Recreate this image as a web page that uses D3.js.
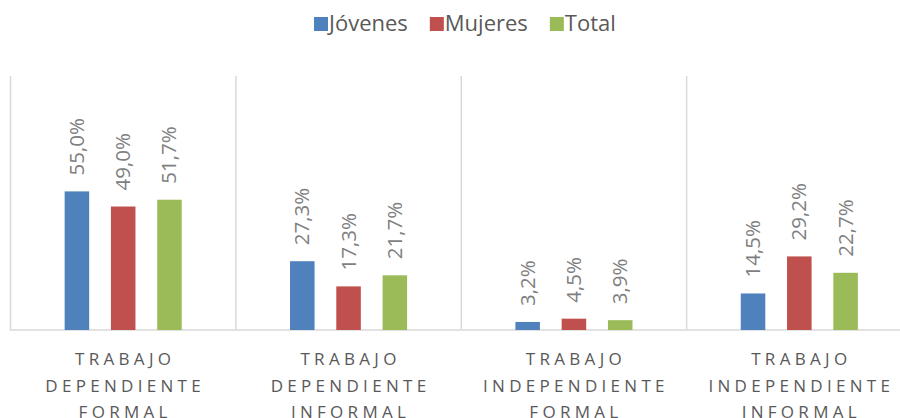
<!DOCTYPE html>
<html>
<head>
<meta charset="utf-8">
<script src="https://cdn.jsdelivr.net/npm/d3@7"></script>
<style>
  html, body { margin: 0; padding: 0; background: #fff; }
  svg { display: block; }
</style>
</head>
<body>
<svg id="chart" width="900" height="418"></svg>
<script>
const categories = [
  "TRABAJO DEPENDIENTE FORMAL",
  "TRABAJO DEPENDIENTE INFORMAL",
  "TRABAJO INDEPENDIENTE FORMAL",
  "TRABAJO INDEPENDIENTE INFORMAL"
];
const seriesNames = ["Jóvenes", "Mujeres", "Total"];
const jovenes = [55.0, 27.3, 3.2, 14.5];
const mujeres = [49.0, 17.3, 4.5, 29.2];
const total   = [51.7, 21.7, 3.9, 22.7];
const seriesValues = [jovenes, mujeres, total];
const colors = ["#4f81bd", "#c0504d", "#9bbb59"];

const svg = d3.select("#chart");
const plotLeft = 10.5, plotRight = 912, plotTop = 76, plotBottom = 330;

const x0 = d3.scaleBand().domain(categories).range([plotLeft, plotRight]).padding(0);
const x1 = d3.scaleBand().domain(seriesNames).range([0, x0.bandwidth()])
  .paddingInner(0.47).paddingOuter(1.17);
const y = d3.scaleLinear().domain([0, 100]).range([plotBottom, 78]);

const fmt = v => d3.format(".1f")(v).replace(".", ",") + "%";

// separators
svg.append("g").selectAll("line").data(categories).join("line")
  .attr("x1", d => x0(d)).attr("x2", d => x0(d))
  .attr("y1", plotTop).attr("y2", plotBottom)
  .attr("stroke", "#d9d9d9").attr("stroke-width", 1.5);
svg.append("line")
  .attr("x1", plotLeft - 0.75).attr("x2", plotRight)
  .attr("y1", plotBottom).attr("y2", plotBottom)
  .attr("stroke", "#d9d9d9").attr("stroke-width", 1.5);

// bars
const data = [];
categories.forEach((c, i) => {
  seriesNames.forEach((s, j) => {
    data.push({ cat: c, series: s, value: seriesValues[j][i], color: colors[j] });
  });
});

const g = svg.append("g");
g.selectAll("rect").data(data).join("rect")
  .attr("x", d => x0(d.cat) + x1(d.series))
  .attr("y", d => y(d.value))
  .attr("width", x1.bandwidth())
  .attr("height", d => plotBottom - y(d.value))
  .attr("fill", d => d.color);

g.selectAll("text").data(data).join("text")
  .attr("transform", d => {
    const cx = x0(d.cat) + x1(d.series) + x1.bandwidth() / 2 + 7;
    return `translate(${cx},${y(d.value) - 16}) rotate(-90)`;
  })
  .attr("font-family", "'Open Sans', sans-serif")
  .attr("font-size", 20.5)
  .attr("fill", "#7f7f7f")
  .text(d => fmt(d.value));

// category labels
const cl = svg.append("g");
categories.forEach(c => {
  const words = c.split(" ");
  words.forEach((w, k) => {
    cl.append("text")
      .attr("x", x0(c) + x0.bandwidth() / 2 + 2)
      .attr("y", 365 + k * 26.5)
      .attr("text-anchor", "middle")
      .attr("font-family", "'Open Sans', sans-serif")
      .attr("font-size", 17)
      .attr("letter-spacing", 4.3)
      .attr("fill", "#595959")
      .text(w);
  });
});

// legend
const lg = svg.append("g");
let lx = 314;
seriesNames.forEach((s, j) => {
  lg.append("rect").attr("x", lx).attr("y", 17).attr("width", 14).attr("height", 14).attr("fill", colors[j]);
  const t = lg.append("text")
    .attr("x", lx + 15)
    .attr("y", 31)
    .attr("font-family", "'Open Sans', sans-serif")
    .attr("font-size", 22)
    .attr("fill", "#595959")
    .text(s);
  const w = t.node().getComputedTextLength();
  lx = lx + 15 + w + 22;
});
</script>
</body>
</html>
